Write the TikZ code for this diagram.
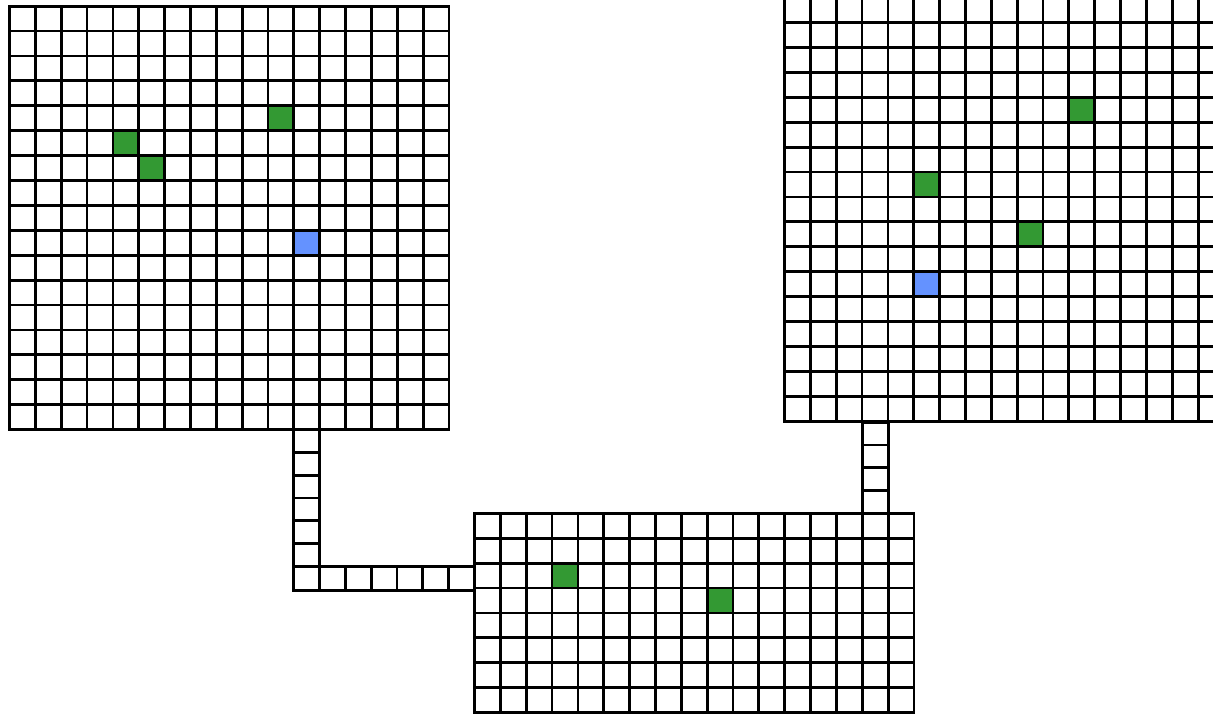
\documentclass[tikz,border=0pt]{standalone}
\usepackage{tikz}
\usepackage{xcolor}
\usetikzlibrary{calc}
\definecolor{ink}{HTML}{000000}
\definecolor{goalgreen}{HTML}{339933}
\definecolor{startblue}{HTML}{6492FF}
\newcommand{\cw}{25.85}
\newcommand{\ch}{24.9}
\tikzset{
  gridline/.style={draw=ink, line width=2.8pt, line cap=rect},
  goalcell/.style={fill=goalgreen},
  startcell/.style={fill=startblue}
}
% room: x, y (top left), cols, rows
\newcommand{\room}[4]{%
  \foreach \i in {0,...,#3}
    \draw[gridline] (#1+\i*\cw,#2) -- (#1+\i*\cw,#2+#4*\ch);
  \foreach \j in {0,...,#4}
    \draw[gridline] (#1,#2+\j*\ch) -- (#1+#3*\cw,#2+\j*\ch);
}
% cell: style, x, y (room corner), col, row
\newcommand{\markcell}[5]{%
  \fill[#1] (#2+#4*\cw,#3+#5*\ch) rectangle ++(\cw,\ch);
}

\begin{document}
\begin{tikzpicture}[x=1pt,y=-1pt]
  \clip (0,0) rectangle (1213,714);
  \fill[white] (0,0) rectangle (1213,714);

  % left room
  \markcell{goalcell}{9.5}{6.2}{10}{4}
  \markcell{goalcell}{9.5}{6.2}{4}{5}
  \markcell{goalcell}{9.5}{6.2}{5}{6}
  \markcell{startcell}{9.5}{6.2}{11}{9}
  \room{9.5}{6.2}{17}{17}

  % right room
  \markcell{goalcell}{784.5}{-2.2}{11}{4}
  \markcell{goalcell}{784.5}{-2.2}{5}{7}
  \markcell{goalcell}{784.5}{-2.2}{9}{9}
  \markcell{startcell}{784.5}{-2.2}{5}{11}
  \room{784.5}{-2.2}{17}{17}

  % bottom room
  \markcell{goalcell}{474.5}{513.3}{3}{2}
  \markcell{goalcell}{474.5}{513.3}{9}{3}
  \room{474.5}{513.3}{17}{8}

  % corridors
  \foreach \k in {0,...,5}
    \draw[gridline] (293.85,429.5+\k*22.83) rectangle ++(25.85,22.83);
  \foreach \k in {0,...,6}
    \draw[gridline] (293.85+\k*25.8,566.5) rectangle ++(25.8,24);
  \foreach \k in {0,...,3}
    \draw[gridline] (862.25,422.3+\k*22.75) rectangle ++(25.85,22.75);
\end{tikzpicture}
\end{document}
